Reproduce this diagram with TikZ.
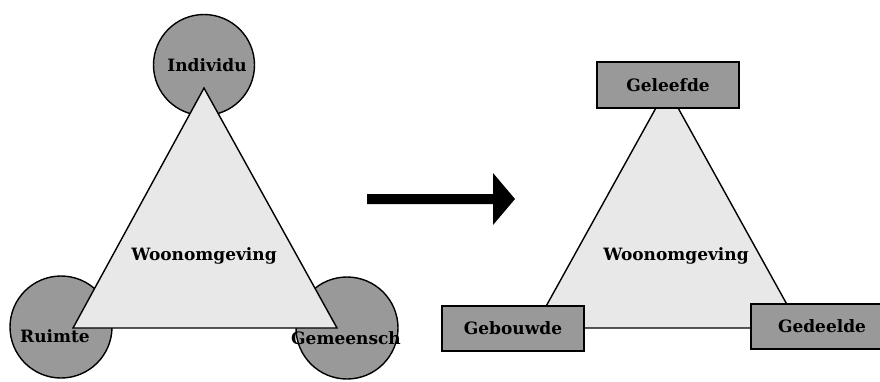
\documentclass[tikz,border=0pt]{standalone}
\usepackage{fontspec}
\setmainfont{DejaVu Serif}
\begin{document}
\begin{tikzpicture}[x=1pt,y=-1pt,
  lbl/.style={font=\fontsize{17}{19}\selectfont\bfseries, inner sep=0pt},
  dgray/.style={fill=black!40, draw=black, line width=1.4pt},
  tri/.style={fill=black!9, draw=black, line width=1.4pt, line join=miter},
  boxnode/.style={dgray, rectangle, inner sep=0pt}]
\useasboundingbox (0,0) rectangle (880,381);
% left side
\node[dgray, circle, minimum size=101pt, inner sep=0pt] (ci) at (204,65) {};
\node[dgray, circle, minimum size=102pt, inner sep=0pt] (cr) at (61,327) {};
\node[dgray, circle, minimum size=102pt, inner sep=0pt] (cg) at (347,328) {};
\coordinate (la) at (204,88);
\coordinate (lb) at (73,328);
\coordinate (lc) at (337,328);
\draw[tri] (la) -- (lb) -- (lc) -- cycle;
\node[lbl] (ti) at (207,65) {Individu};
\node[lbl] (tr) at (55,336) {Ruimte};
\node[lbl] (tg) at (346,338) {Gemeensch};
\node[lbl] (tw1) at (204,256) {Woonomgeving};
% arrow
\coordinate (as) at (367,199);
\coordinate (ae) at (515,199);
\fill (367,194) -- (493,194) -- (493,173) -- (515,199) -- (493,225) -- (493,204) -- (367,204) -- cycle;
% right side
\coordinate (ra) at (667,88);
\coordinate (rb) at (534,328);
\coordinate (rc) at (800,328);
\draw[tri] (ra) -- (rb) -- (rc) -- cycle;
\node[boxnode, minimum width=142pt, minimum height=46pt] (bg) at (668,85) {};
\node[lbl] at (bg) {Geleefde};
\node[boxnode, minimum width=142pt, minimum height=45pt] (bb) at (513,328.5) {};
\node[lbl] at (bb) {Gebouwde};
\node[boxnode, minimum width=140pt, minimum height=45pt] (bd) at (821,326.5) {};
\node[lbl] at (822,326) {Gedeelde};
\node[lbl] (tw2) at (676,256) {Woonomgeving};
\end{tikzpicture}
\end{document}
